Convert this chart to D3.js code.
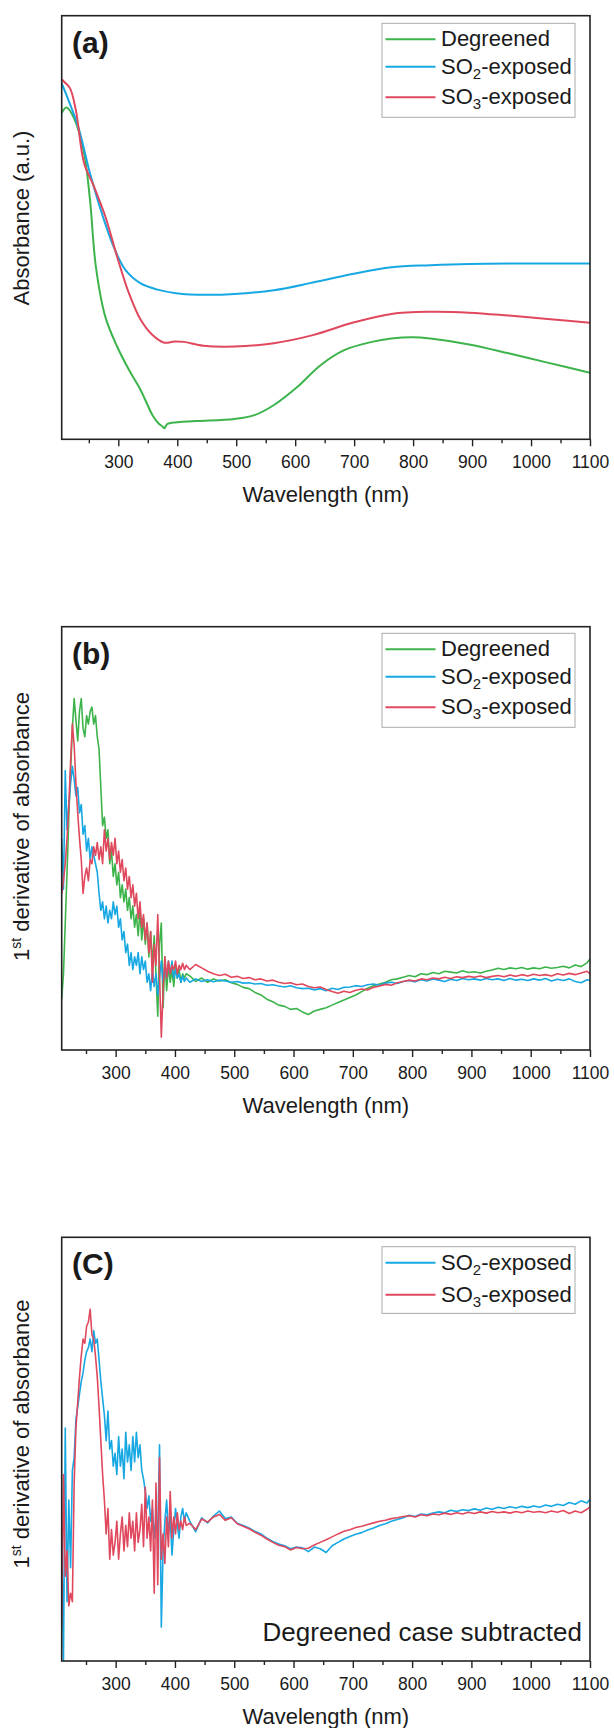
<!DOCTYPE html>
<html><head><meta charset="utf-8">
<script src="https://cdn.jsdelivr.net/npm/d3@7"></script>
<style>
body{margin:0;background:#fff}
svg{display:block}
text{font-family:"Liberation Sans",Arial,Helvetica,sans-serif;fill:#1a1a1a}
</style>
</head><body>
<svg id="chart" width="614" height="1728"></svg>
<script>
// ---------- DATA ----------
// Panel (a): absorbance (arbitrary units, % of plot height), [wavelength nm, value]
const absDegreened = [[204,77.0],[212,78.3],[225,75.8],[242,67.5],[252,56.5],[262,40.7],[278,28.9],[298,21.9],[318,16.4],[338,11.6],[358,5.7],[368,3.8],[375,3.0],[378,2.6],[383,3.6],[391,3.9],[431,4.3],[497,4.8],[531,5.7],[564,8.1],[604,12.4],[643,17.5],[684,21.1],[730,23.0],[763,23.8],[800,24.1],[829,23.8],[895,22.4],[962,20.3],[1028,18.1],[1100,15.7]];
const absSO2 = [[204,84.0],[212,81.3],[232,73.8],[252,62.8],[272,53.4],[292,45.5],[312,40.0],[338,36.8],[365,35.4],[398,34.5],[451,34.1],[497,34.3],[564,35.2],[630,37.0],[697,39.0],[763,40.6],[829,41.1],[895,41.4],[1100,41.5]];
const absSO3 = [[204,85.0],[208,84.4],[218,82.9],[228,77.7],[242,65.2],[259,59.6],[278,52.6],[298,43.1],[318,34.5],[338,28.2],[358,24.6],[378,22.8],[395,23.1],[411,23.0],[444,22.1],[497,21.9],[564,22.7],[630,24.6],[697,27.5],[763,29.6],[829,30.1],[895,29.9],[962,29.2],[1028,28.4],[1100,27.5]];

// Panels (b),(c): shared wavelength grid (nm)
const wlNoisy = [209,212,215,218,221,224,227,230,233,236,
 239,242,245,248,251,254,257,260,263,266,
 269,272,275,278,281,284,287,290,293,296,
 299,302,305,308,311,314,317,320,323,326,
 329,332,335,338,341,344,347,350,353,356,
 359,362,365,368,371,374,377,380,383,386,
 389,392,395,398,401,404,407,410,413,416,
 419];
const wlSmooth = [425,435,445,455,465,475,485,495,505,515,
 525,535,545,555,565,575,585,595,605,615,
 625,635,645,655,665,675,685,695,705,715,
 725,735,745,755,765,775,785,795,805,815,
 825,835,845,855,865,875,885,895,905,915,
 925,935,945,955,965,975,985,995,1005,1015,
 1025,1035,1045,1055,1065,1075,1085,1095,1100];

// Panel (b): 1st derivative (arbitrary units, % of plot height)
const derivDegreened = [12,18,30,42,55,66,76,83,78,73,
 80,83,76,74,79,77,80,81,77,79,
 74,71,62,53,55,50,52,44,47,41,
 44,39,42,36,39,35,38,33,36,31,
 34,29,32,27,33,26,31,25,30,22,
 28,20,27,18,8,25,30,10,22,14,
 20,16,19,15,20,17,19,16,18,17,
 18,
 17.5,16.2,17.0,16.0,16.8,16.3,16.6,15.9,15.5,14.8,
 14.5,13.6,13.0,12.0,11.4,10.6,10.3,9.6,9.8,9.0,
 8.4,9.2,9.6,10.0,10.6,11.2,11.8,12.4,13.0,13.8,
 14.6,15.2,15.6,16.0,16.6,16.8,17.2,17.6,17.3,18.0,
 17.8,18.3,18.0,18.6,18.4,18.2,18.7,18.3,18.5,18.2,
 18.6,18.9,19.3,19.0,19.4,19.2,19.5,19.1,19.4,19.2,
 19.6,19.3,19.5,19.8,19.4,20.1,19.7,20.6,21.5];
const derivSO2 = [50,38,66,52,58,63,67,64,60,62,
 56,58,51,53,47,50,45,48,46,44,
 42,37,33,35,31,34,30,33,31,35,
 32,34,29,31,26,28,23,25,20,23,
 19,22,20,23,18,22,19,21,16,18,
 14,19,15,18,13,17,21,16,20,17,
 21,18,21,17,19,17,18,16,17.5,16.2,
 17,
 16.0,16.8,16.2,16.6,16.1,16.5,16.3,16.0,16.2,15.8,
 15.9,15.6,15.7,15.3,15.4,15.1,14.9,15.2,14.7,14.5,
 14.6,14.2,14.5,14.0,14.6,14.3,14.8,14.9,15.2,15.0,
 15.4,15.6,15.3,15.8,16.0,15.7,16.2,16.4,16.1,16.6,
 16.3,16.8,16.5,16.2,16.7,16.4,16.9,16.6,16.8,16.5,
 16.9,16.6,16.8,16.4,16.9,16.5,16.7,16.4,16.8,16.5,
 16.9,16.3,16.7,16.4,16.8,16.2,15.9,16.6,16.4];
const derivSO3 = [37,40,44,50,58,68,77,72,63,56,
 50,45,37,41,43,40,45,44,48,46,
 49,45,48,44,52,47,50,45,49,46,
 50,44,47,42,45,40,43,38,41,36,
 39,34,37,31,35,29,32,26,30,23,
 28,16,25,20,32,18,3,14,22,17,
 21,18,20,19,21,18,20,19,20.5,19,
 20,
 19.0,20.2,19.4,18.6,18.0,17.6,17.9,17.2,17.4,16.9,
 17.1,16.6,16.8,16.3,16.5,16.0,15.7,15.9,15.4,15.6,
 15.0,14.7,14.9,14.3,13.8,13.4,13.9,13.6,14.1,14.4,
 14.2,14.8,15.1,15.5,15.3,15.9,16.2,16.5,16.3,16.8,
 16.6,17.0,16.8,17.2,16.9,17.3,17.1,17.4,17.2,17.5,
 17.1,17.4,17.6,17.3,17.7,17.4,17.8,17.5,17.9,17.6,
 17.8,17.5,18.0,17.7,18.1,17.8,18.2,18.6,18.0];

// Panel (c): degreened case subtracted
const subSO2 = [30,0,55,14,38,22,45,48,57,60,
 63,66,68,71,73,74,76,73,78,75,
 76,71,66,62,58,52,59,50,52,46,
 49,44,53,46,50,43,54,47,51,45,
 53,47,54,48,51,45,43,40,36,39,
 33,36,29,34,30,51,8,26,33,38,
 30,34,25,31,36,32,29,34,36,33,
 35,
 33.0,30.5,33.8,32.6,34.2,35.4,33.6,34.0,32.5,32.0,
 31.4,30.6,30.0,29.0,28.2,27.6,27.2,26.5,26.9,26.7,
 25.8,26.9,26.5,25.6,27.2,28.0,28.8,29.4,29.9,30.3,
 30.9,31.4,32.0,32.4,33.0,33.4,33.8,34.4,34.1,34.7,
 34.5,34.9,35.2,35.0,35.6,35.3,35.7,35.5,35.9,35.6,
 36.1,35.8,36.3,36.0,36.4,36.1,36.5,36.2,36.6,36.3,
 36.8,36.5,37.0,36.7,37.4,37.0,37.8,37.3,38.2];
const subSO3 = [8,44,20,26,13,16,14,42,55,61,
 67,72,76,75,79,80,83,77,76,72,
 67,60,52,44,38,30,36,24,31,25,
 28,33,24,30,34,26,32,27,35,29,
 33,26,35,28,31,37,27,41,29,34,
 26,38,16,42,18,48,24,30,23,34,
 27,40,29,34,30,35,31,33,31,34,
 32,
 32.5,31.0,33.5,32.8,34.0,34.6,33.2,33.8,32.4,31.8,
 31.2,30.4,29.7,28.8,28.0,27.3,27.0,26.2,26.8,26.5,
 26.6,27.4,28.0,28.6,29.3,30.0,30.6,31.0,31.5,31.8,
 32.2,32.6,33.0,33.2,33.6,33.8,34.1,34.3,34.0,34.5,
 34.3,34.7,34.5,34.9,34.6,35.0,34.7,35.1,34.8,35.2,
 34.9,35.3,35.0,35.2,34.9,35.3,35.0,35.4,35.1,35.3,
 35.0,35.4,35.1,35.5,34.8,35.4,35.0,35.8,36.4];

const majorTicks = [300,400,500,600,700,800,900,1000,1100];
const minorTicks = [250,350,450,550,650,750,850,950,1050];
const seriesNames = ["Degreened","SO2-exposed","SO3-exposed"];

// ---------- DRAWING ----------
const COL = {g:"#3cb44b", b:"#17a8e3", r:"#e0485e"};
const svg = d3.select("#chart");
const wlAll = wlNoisy.concat(wlSmooth);
const pairs = vals => wlAll.map((w,i)=>[w, vals[i]]);

const L = 61.7, R = 590;

function label(g, x, y, parts, size){
  // parts: [text, sub?]
  const t = g.append("text").attr("x", x).attr("y", y).style("font-size", size+"px");
  return t;
}

function drawPanel(cfg, idx){
  const x = d3.scaleLinear().domain(cfg.xDomain).range([L, R]);
  const y = d3.scaleLinear().domain([0,100]).range([cfg.bottom, cfg.top]);
  const g = svg.append("g");
  const cid = "clip"+idx;
  g.append("clipPath").attr("id", cid).append("rect")
    .attr("x", L).attr("y", cfg.top).attr("width", R-L).attr("height", cfg.bottom-cfg.top);
  const line = d3.line().x(d=>x(d[0])).y(d=>y(d[1])).curve(cfg.curve);
  const lg = g.append("g").attr("clip-path", `url(#${cid})`);
  cfg.series.forEach(s=>{
    lg.append("path").datum(s.data).attr("d", line)
      .attr("fill","none").attr("stroke", s.color).attr("stroke-width", cfg.lw)
      .attr("stroke-linejoin","round");
  });
  // frame
  g.append("rect").attr("x", L).attr("y", cfg.top).attr("width", R-L).attr("height", cfg.bottom-cfg.top)
    .attr("fill","none").attr("stroke","#222").attr("stroke-width",1.6);
  // axes
  const ax = g.append("g").attr("transform", `translate(0,${cfg.bottom})`)
    .call(d3.axisBottom(x).tickValues(majorTicks).tickSize(7).tickSizeOuter(0).tickFormat(d3.format("d")));
  ax.select(".domain").remove();
  ax.selectAll(".tick line").attr("stroke","#222").attr("stroke-width",1.4);
  ax.selectAll(".tick text").attr("y", 29).attr("dy", null)
    .style("font-size","17.5px").style("font-family",'"Liberation Sans",Arial,sans-serif').attr("fill","#1a1a1a");
  const axm = g.append("g").attr("transform", `translate(0,${cfg.bottom})`)
    .call(d3.axisBottom(x).tickValues(minorTicks).tickSize(4).tickSizeOuter(0).tickFormat(""));
  axm.select(".domain").remove();
  axm.selectAll(".tick line").attr("stroke","#222").attr("stroke-width",1.4);
  // x title
  g.append("text").attr("x", (L+R)/2).attr("y", cfg.bottom+62.5).attr("text-anchor","middle")
    .style("font-size","22px").text("Wavelength (nm)");
  // y title
  const yt = g.append("text").attr("transform", `translate(28.5,${cfg.yTitleY}) rotate(-90)`)
    .attr("text-anchor","middle").style("font-size","22px");
  if (cfg.yTitle === "abs") {
    yt.text("Absorbance (a.u.)");
  } else {
    yt.append("tspan").text("1");
    yt.append("tspan").attr("dy",-8).style("font-size","14px").text("st");
    yt.append("tspan").attr("dy",8).text(" derivative of absorbance");
  }
  // panel label
  g.append("text").attr("x", 72).attr("y", cfg.top+37).style("font-size","30px")
    .style("font-weight","bold").text(cfg.tag);
  // legend
  const lgx = 382, lgw = 193;
  const leg = g.append("g");
  leg.append("rect").attr("x", lgx).attr("y", cfg.legTop).attr("width", lgw).attr("height", cfg.legH)
    .attr("fill","#fff").attr("stroke","#aaa").attr("stroke-width",1);
  cfg.series.forEach((s,i)=>{
    const ly = cfg.legTop + cfg.legRows[i];
    leg.append("line").attr("x1", lgx+3.5).attr("x2", lgx+53.5).attr("y1", ly).attr("y2", ly)
      .attr("stroke", s.color).attr("stroke-width", 2);
    const t = leg.append("text").attr("x", lgx+59).attr("y", ly+7).style("font-size","22px");
    const name = s.name;
    const m = name.match(/^SO(\d)(.*)$/);
    if (m) {
      t.append("tspan").text("SO");
      t.append("tspan").attr("dy",5).style("font-size","15px").text(m[1]);
      t.append("tspan").attr("dy",-5).text(m[2]);
    } else t.text(name);
  });
  if (cfg.note) {
    g.append("text").attr("x", 582).attr("y", 1641).attr("text-anchor","end")
      .style("font-size","26px").text(cfg.note);
  }
}

drawPanel({
  top:15.7, bottom:439.3, xDomain:[204,1100], curve:d3.curveCatmullRom.alpha(0.5), lw:2,
  series:[{name:seriesNames[0],color:COL.g,data:absDegreened},
          {name:seriesNames[1],color:COL.b,data:absSO2},
          {name:seriesNames[2],color:COL.r,data:absSO3}],
  yTitle:"abs", yTitleY:218, tag:"(a)", legTop:23.3, legH:94, legRows:[16,43.5,74]
},0);

drawPanel({
  top:626.7, bottom:1050, xDomain:[209,1100], curve:d3.curveLinear, lw:1.6,
  series:[{name:seriesNames[0],color:COL.g,data:pairs(derivDegreened)},
          {name:seriesNames[1],color:COL.b,data:pairs(derivSO2)},
          {name:seriesNames[2],color:COL.r,data:pairs(derivSO3)}],
  yTitle:"deriv", yTitleY:826.5, tag:"(b)", legTop:633.3, legH:94, legRows:[16,43.5,74]
},1);

drawPanel({
  top:1237.3, bottom:1661, xDomain:[209,1100], curve:d3.curveLinear, lw:1.6,
  series:[{name:seriesNames[1],color:COL.b,data:pairs(subSO2)},
          {name:seriesNames[2],color:COL.r,data:pairs(subSO3)}],
  yTitle:"deriv", yTitleY:1434, tag:"(C)", legTop:1246.7, legH:66.7, legRows:[16,48],
  note:"Degreened case subtracted"
},2);
</script>
</body></html>
